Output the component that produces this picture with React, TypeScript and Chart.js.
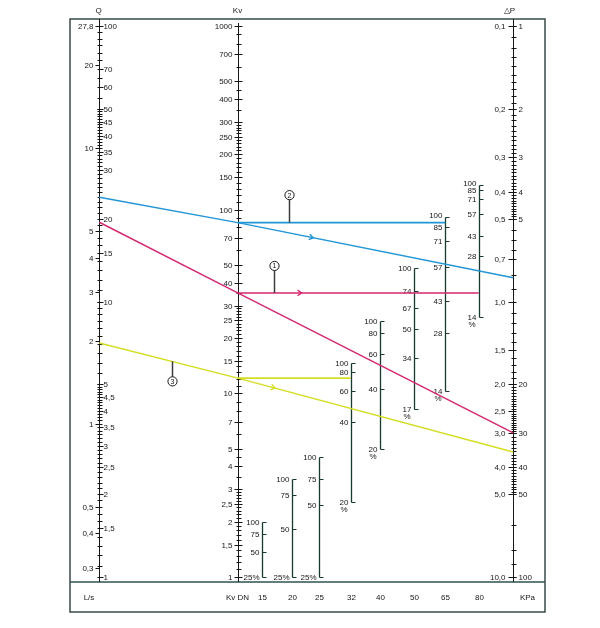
import { useEffect, useRef } from 'react';
import { Chart, registerables } from 'chart.js';

Chart.register(...registerables);

// ---------------- Data ----------------
// Q axis: flow in m³/h (right labels) and L/s (left labels)
const Q_M3H_TICKS = [100, 70, 60, 50, 45, 40, 35, 30, 20, 15, 10, 5, 4.5, 4, 3.5, 3, 2.5, 2, 1.5, 1];
const Q_LS_TICKS = [27.8, 20, 10, 5, 4, 3, 2, 1, 0.5, 0.4, 0.3];
// Kv axis
const KV_TICKS = [1000, 700, 500, 400, 300, 250, 200, 150, 100, 70, 50, 40, 30, 25, 20, 15, 10, 7, 5, 4, 3, 2.5, 2, 1.5, 1];
// ΔP axis: bar (left labels) and kPa (right labels)
const DP_BAR_TICKS = [0.1, 0.2, 0.3, 0.4, 0.5, 0.7, 1.0, 1.5, 2.0, 2.5, 3.0, 4.0, 5.0, 10.0];
const DP_KPA_TICKS = [1, 2, 3, 4, 5, 20, 30, 40, 50, 100];

// Valve sizes and their opening scales (% opening -> Kv)
const DN_SIZES = [15, 20, 25, 32, 40, 50, 65, 80];
const DN_OPENING_PCT = [
  [100, 75, 50, 25],
  [100, 75, 50, 25],
  [100, 75, 50, 25],
  [100, 80, 60, 40, 20],
  [100, 80, 60, 40, 20],
  [100, 74, 67, 50, 34, 17],
  [100, 85, 71, 57, 43, 28, 14],
  [100, 85, 71, 57, 43, 28, 14],
];
const DN_OPENING_KV = [
  [2.0, 1.71, 1.37, 1.0],
  [3.43, 2.79, 1.82, 1.0],
  [4.52, 3.43, 2.47, 1.0],
  [14.7, 13.0, 10.3, 6.96, 2.57],
  [24.9, 21.2, 16.4, 10.6, 4.98],
  [48.3, 35.9, 29.0, 22.4, 15.5, 8.2],
  [91.5, 80.2, 67.4, 48.9, 31.8, 21.2, 10.3],
  [136, 128, 114, 94.4, 72.2, 55.9, 26.1],
];

// Example lines ①②③
const LINE_NAMES = ['1', '2', '3'];
const LINE_Q_M3H = [19.4, 23.9, 7.07];
const LINE_KV = [35.2, 85, 12.1];
const LINE_DP_BAR = [3.0, 0.82, 3.52];
const LINE_DN_END = [80, 65, 32];
const LINE_COLORS = ['#d42a72', '#2196d6', '#d3de24'];

// ---------------- Layout (not data) ----------------
const Q_RANGE = [1, 100];
const KV_RANGE = [1, 1000];
const DP_RANGE = [0.1, 10];
const COL = { q: 29.3, kv: 167.7, dp: 443.2 };
const DN_COL = [192.3, 222.3, 249.3, 280.7, 310.3, 344.3, 375.3, 408.7];
const ARROWS = [
  { line: 1, seg: 'diag', x: 243.3 },
  { line: 0, seg: 'horiz', x: 231.7 },
  { line: 2, seg: 'diag', x: 205 },
];
const MARKERS = [
  { line: 1, seg: 'horiz', x: 219.3, dy: -27.5 },
  { line: 0, seg: 'horiz', x: 204, dy: -27 },
  { line: 2, seg: 'diag', x: 101.7, dy: 20 },
];

const FONT = '8px "Liberation Sans", Arial, Helvetica, sans-serif';
const INK = '#161616';

// ---------------- helpers ----------------
const lfrac = (v: number, r: number[]) => Math.log10(v / r[0]) / Math.log10(r[1] / r[0]);
const kvAtFrac = (f: number) => KV_RANGE[0] * Math.pow(KV_RANGE[1] / KV_RANGE[0], f);
const qToKv = (q: number) => kvAtFrac(lfrac(q, Q_RANGE));
const dpToKv = (dp: number) => kvAtFrac(1 - lfrac(dp, DP_RANGE));

function range(a: number, b: number, step: number) {
  const out: number[] = [];
  const n = Math.round((b - a) / step);
  for (let i = 0; i <= n; i++) out.push(+(a + i * step).toFixed(4));
  return out;
}

const Q_MINOR = [...range(1, 5, 0.1), ...range(5, 10, 0.5), ...range(10, 50, 1), ...range(50, 100, 5)];
const KV_MINOR = ([1, 10, 100] as number[]).flatMap((d) =>
  [...range(1, 3, 0.1), 3.5, 4, 4.5, 5, 6, 7, 8, 9].map((v) => +(v * d).toFixed(3))
).concat([1000]);
const DP_MINOR = [
  ...range(0.1, 0.5, 0.01), ...range(0.5, 0.7, 0.05), 0.8, 0.9,
  ...range(1, 2, 0.1), ...range(2, 3, 0.05), ...range(3, 5, 0.1), 6.5, 8, 9, 10,
];

const fmt = (v: number) => String(v).replace('.', ',');
const fmt1 = (v: number) => v.toFixed(1).replace('.', ',');

function text(ctx: CanvasRenderingContext2D, s: string, x: number, y: number, align: CanvasTextAlign) {
  ctx.textAlign = align;
  ctx.fillText(s, x, y);
}
function seg(ctx: CanvasRenderingContext2D, x1: number, y1: number, x2: number, y2: number) {
  ctx.beginPath();
  ctx.moveTo(x1, y1);
  ctx.lineTo(x2, y2);
  ctx.stroke();
}
const crisp = (v: number) => Math.round(v) + 0.5;

function pointOn(chart: any, dsIndex: number, px: number) {
  const pts = chart.getDatasetMeta(dsIndex).data;
  for (let k = 0; k < pts.length - 1; k++) {
    const a = pts[k], b = pts[k + 1];
    if (px >= a.x && px <= b.x) {
      const t = (px - a.x) / (b.x - a.x);
      return { x: px, y: a.y + t * (b.y - a.y), angle: Math.atan2(b.y - a.y, b.x - a.x) };
    }
  }
  const a = pts[0];
  return { x: a.x, y: a.y, angle: 0 };
}

const nomogramPlugin = {
  id: 'nomogram',
  beforeDatasetsDraw(chart: any) {
    const { ctx, chartArea: ca, scales } = chart;
    const xs = scales.x, yKv = scales.yKv, yQ = scales.yQ, yDP = scales.yDP;
    const top = ca.top - 7;
    const divider = ca.bottom + 5;
    const bottom = ca.bottom + 35;
    ctx.save();
    ctx.font = FONT;
    ctx.textBaseline = 'middle';
    ctx.fillStyle = INK;

    // frame
    ctx.strokeStyle = '#3a4848';
    ctx.lineWidth = 1.5;
    ctx.strokeRect(ca.left, top, ca.right - ca.left, bottom - top);
    ctx.strokeStyle = '#2f5050';
    seg(ctx, ca.left, divider, ca.right, divider);

    const xq = crisp(xs.getPixelForValue(COL.q));
    const xk = crisp(xs.getPixelForValue(COL.kv));
    const xd = crisp(xs.getPixelForValue(COL.dp));

    // axis lines
    ctx.strokeStyle = INK;
    ctx.lineWidth = 1;
    seg(ctx, xq, top, xq, divider);
    seg(ctx, xk, top + 4, xk, divider);
    seg(ctx, xd, top, xd, divider);

    // headers
    text(ctx, 'Q', xq - 1, top - 8, 'center');
    text(ctx, 'Kv', xk - 1, top - 8, 'center');
    text(ctx, '△P', xd - 4, top - 8, 'center');

    // Q axis
    Q_MINOR.forEach((v) => { const y = crisp(yQ.getPixelForValue(v)); seg(ctx, xq - 2, y, xq + 3, y); });
    Q_M3H_TICKS.forEach((v) => {
      const y = crisp(yQ.getPixelForValue(v));
      seg(ctx, xq, y, xq + 4, y);
      text(ctx, fmt(v), xq + 4, y, 'left');
    });
    Q_LS_TICKS.forEach((v) => {
      const y = crisp(yQ.getPixelForValue(v * 3.6));
      seg(ctx, xq - 4, y, xq, y);
      text(ctx, fmt(v), xq - 6, y, 'right');
    });

    // Kv axis
    KV_MINOR.forEach((v) => { const y = crisp(yKv.getPixelForValue(v)); seg(ctx, xk - 2, y, xk + 3, y); });
    KV_TICKS.forEach((v) => {
      const y = crisp(yKv.getPixelForValue(v));
      seg(ctx, xk - 4, y, xk + 4, y);
      text(ctx, fmt(v), xk - 6, y, 'right');
    });

    // ΔP axis
    DP_MINOR.forEach((v) => { const y = crisp(yDP.getPixelForValue(v)); seg(ctx, xd - 2, y, xd + 3, y); });
    DP_BAR_TICKS.forEach((v) => {
      const y = crisp(yDP.getPixelForValue(v));
      seg(ctx, xd - 5, y, xd, y);
      text(ctx, fmt1(v), xd - 8, y, 'right');
    });
    DP_KPA_TICKS.forEach((v) => {
      const y = crisp(yDP.getPixelForValue(v / 10));
      seg(ctx, xd, y, xd + 3, y);
      text(ctx, String(v), xd + 5, y, 'left');
    });

    // DN opening scales
    DN_SIZES.forEach((dn, i) => {
      const x = crisp(xs.getPixelForValue(DN_COL[i]));
      const kvs = DN_OPENING_KV[i];
      const pcts = DN_OPENING_PCT[i];
      const yTop = crisp(yKv.getPixelForValue(kvs[0]));
      const yBot = crisp(yKv.getPixelForValue(kvs[kvs.length - 1]));
      ctx.strokeStyle = '#17392f';
      ctx.lineWidth = 1.3;
      seg(ctx, x, yTop, x, yBot);
      ctx.lineWidth = 1;
      kvs.forEach((kv, j) => {
        const y = crisp(yKv.getPixelForValue(kv));
        seg(ctx, x, y, x + 4, y);
        const last = j === kvs.length - 1;
        let ly = y;
        if (j === 0 && kvs.length === 7) ly = y - 2;
        if (last && dn <= 25) {
          text(ctx, `${pcts[j]}%`, x - 3, y, 'right');
        } else if (last) {
          const w = ctx.measureText(String(pcts[j])).width;
          text(ctx, String(pcts[j]), x - 3, y, 'right');
          text(ctx, '%', x - 3 - w / 2, y + 7, 'center');
        } else {
          text(ctx, String(pcts[j]), x - 3, ly, 'right');
        }
      });
      text(ctx, String(dn), x, ca.bottom + 21, 'center');
    });

    // bottom band labels
    text(ctx, 'L/s', ca.left + 19, ca.bottom + 21, 'center');
    text(ctx, 'Kv DN', xk - 1, ca.bottom + 21, 'center');
    text(ctx, 'KPa', xd + 14, ca.bottom + 21, 'center');
    ctx.restore();
  },
  afterDatasetsDraw(chart: any) {
    const { ctx, scales } = chart;
    const xs = scales.x;
    ctx.save();
    // arrows
    ARROWS.forEach((a) => {
      const ds = a.line * 2 + (a.seg === 'diag' ? 0 : 1);
      const p = pointOn(chart, ds, xs.getPixelForValue(a.x));
      ctx.strokeStyle = LINE_COLORS[a.line];
      ctx.lineWidth = 1.4;
      const L = 5, sp = 0.6;
      ctx.beginPath();
      ctx.moveTo(p.x - L * Math.cos(p.angle - sp), p.y - L * Math.sin(p.angle - sp));
      ctx.lineTo(p.x, p.y);
      ctx.lineTo(p.x - L * Math.cos(p.angle + sp), p.y - L * Math.sin(p.angle + sp));
      ctx.stroke();
    });
    // circled markers
    MARKERS.forEach((m) => {
      const ds = m.line * 2 + (m.seg === 'diag' ? 0 : 1);
      const p = pointOn(chart, ds, xs.getPixelForValue(m.x));
      const cx = Math.round(p.x) + 0.5;
      const cy = p.y + m.dy;
      const r = 4.6;
      ctx.strokeStyle = '#3c3c3c';
      ctx.lineWidth = 1.5;
      const sy = m.dy < 0 ? cy + r : cy - r;
      seg(ctx, cx, sy, cx, p.y);
      ctx.lineWidth = 1;
      ctx.strokeStyle = INK;
      ctx.fillStyle = '#fff';
      ctx.beginPath();
      ctx.arc(cx, cy, r, 0, Math.PI * 2);
      ctx.fill();
      ctx.stroke();
      ctx.fillStyle = INK;
      ctx.font = '7px "Liberation Sans", Arial, sans-serif';
      ctx.textAlign = 'center';
      ctx.textBaseline = 'middle';
      ctx.fillText(LINE_NAMES[m.line], cx, cy + 0.5);
    });
    ctx.restore();
  },
};

export default function App() {
  const ref = useRef<HTMLCanvasElement>(null);
  useEffect(() => {
    const canvas = ref.current;
    if (!canvas) return;
    const datasets: any[] = [];
    LINE_NAMES.forEach((name, i) => {
      const dnIdx = DN_SIZES.indexOf(LINE_DN_END[i]);
      datasets.push({
        label: `Line ${name}`,
        data: [
          { x: COL.q, y: qToKv(LINE_Q_M3H[i]) },
          { x: COL.kv, y: LINE_KV[i] },
          { x: COL.dp, y: dpToKv(LINE_DP_BAR[i]) },
        ],
        borderColor: LINE_COLORS[i],
        borderWidth: 1.5,
        pointRadius: 0,
        showLine: true,
        xAxisID: 'x',
        yAxisID: 'yKv',
      });
      datasets.push({
        label: `Line ${name} Kv`,
        data: [
          { x: COL.kv, y: LINE_KV[i] },
          { x: DN_COL[dnIdx], y: LINE_KV[i] },
        ],
        borderColor: LINE_COLORS[i],
        borderWidth: 1.6,
        pointRadius: 0,
        showLine: true,
        xAxisID: 'x',
        yAxisID: 'yKv',
      });
    });
    const chart = new Chart(canvas, {
      type: 'scatter',
      data: { datasets },
      options: {
        animation: false,
        responsive: false,
        maintainAspectRatio: false,
        events: [],
        layout: { padding: { left: 70, right: 55, top: 26, bottom: 51 } },
        plugins: { legend: { display: false }, tooltip: { enabled: false } },
        scales: {
          x: { type: 'linear', min: 0, max: 475, display: false },
          yKv: { type: 'logarithmic', min: KV_RANGE[0], max: KV_RANGE[1], display: false },
          yQ: { type: 'logarithmic', min: Q_RANGE[0], max: Q_RANGE[1], display: false },
          yDP: { type: 'logarithmic', min: DP_RANGE[0], max: DP_RANGE[1], reverse: true, display: false },
        },
      } as any,
      plugins: [nomogramPlugin],
    });
    return () => chart.destroy();
  }, []);
  return (
    <div style={{ position: 'absolute', left: 0, top: 0, width: 600, height: 628, background: '#fff' }}>
      <canvas ref={ref} width={600} height={628} style={{ display: 'block', width: 600, height: 628 }} />
    </div>
  );
}
